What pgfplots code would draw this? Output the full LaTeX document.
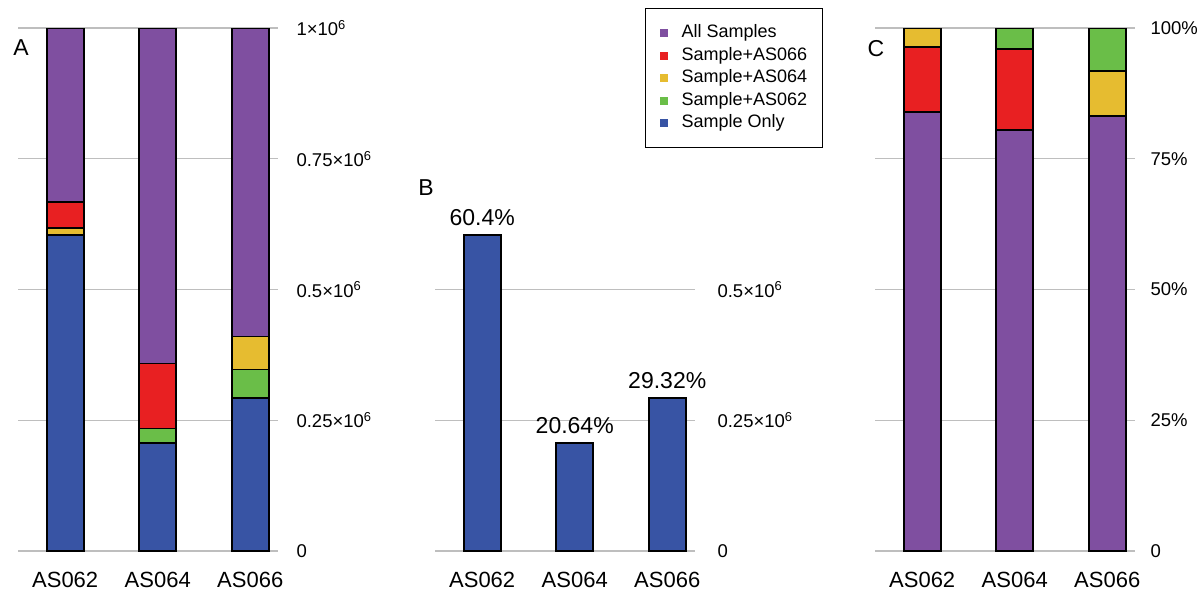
\documentclass[border=0pt]{standalone}
\usepackage{pgfplots}
\pgfplotsset{compat=1.18}
\usepackage{fontspec}
\setmainfont{Liberation Sans}
\definecolor{cPurple}{RGB}{127,79,160}
\definecolor{cRed}{RGB}{232,32,34}
\definecolor{cYellow}{RGB}{230,188,48}
\definecolor{cGreen}{RGB}{106,190,72}
\definecolor{cBlue}{RGB}{56,84,164}
\definecolor{cGrid}{RGB}{190,190,190}
\pgfplotsset{
  panel/.style={
    scale only axis, width=260pt, height=523pt,
    xmin=-0.51, xmax=2.30, ymin=0,
    axis line style={draw=none},
    major tick length=0pt,
    xtick={0,1,2}, xticklabels={AS062,AS064,AS066},
    ymajorgrids, major grid style={color=cGrid, line width=1.4pt},
    yticklabel pos=right,
    scaled y ticks=false,
    yticklabel style={font=\fontsize{18.5}{22}\selectfont, anchor=west, xshift=15pt},
    xticklabel style={font=\fontsize{22}{26}\selectfont, yshift=-20pt, inner sep=1pt},
    bar width=37pt,
    every axis plot post/.append style={draw=black, line width=1.8pt},
  },
  sqlegend/.style={legend image code/.code={
      \path[draw=none,fill=none] (0pt,-6pt) rectangle (21pt,6pt);
      \fill[##1,draw=none] (0pt,-4pt) rectangle (8pt,4pt);}},
}
\begin{document}
\begin{tikzpicture}
\useasboundingbox (0pt,0pt) rectangle (1197pt,-598pt);
% Panel A
\begin{axis}[panel, at={(18pt,-551pt)}, anchor=south west,
  ybar stacked, ymax=1000000,
  ytick={0,250000,500000,750000,1000000},
  yticklabels={0, 0.25×10\textsuperscript{6}, 0.5×10\textsuperscript{6}, 0.75×10\textsuperscript{6}, 1×10\textsuperscript{6}},
  reverse legend,
  legend style={at={(2.4115,1.0382)}, anchor=north west, draw=black, line width=1.2pt,
    font=\fontsize{18}{22}\selectfont, row sep=3.5pt, inner xsep=14pt, inner ysep=15pt,
    nodes={inner sep=1pt, text height=13pt, text depth=4pt}, cells={anchor=west}},
  legend cell align=left,
]
\addplot[fill=cBlue, sqlegend] coordinates {(0,604000) (1,206400) (2,293200)};
\addplot[fill=cGreen, sqlegend] coordinates {(0,0) (1,28000) (2,54000)};
\addplot[fill=cYellow, sqlegend] coordinates {(0,14000) (1,0) (2,63000)};
\addplot[fill=cRed, sqlegend] coordinates {(0,49000) (1,124000) (2,0)};
\addplot[fill=cPurple, sqlegend] coordinates {(0,333000) (1,641600) (2,589800)};
\legend{Sample Only, Sample+AS062, Sample+AS064, Sample+AS066, All Samples}
\end{axis}
% Panel B
\begin{axis}[panel, at={(435pt,-551pt)}, anchor=south west,
  ybar, ymax=1000000,
  ytick={0,250000,500000},
  yticklabels={0, 0.25×10\textsuperscript{6}, 0.5×10\textsuperscript{6}},
  yticklabel style={xshift=4pt},
]
\addplot[fill=cBlue, nodes near coords, point meta=explicit symbolic,
  every node near coord/.append style={font=\fontsize{23}{27}\selectfont, yshift=5pt}]
  coordinates {(0,604000) [60.4\%] (1,206400) [20.64\%] (2,293200) [29.32\%]};
\end{axis}
% Panel C
\begin{axis}[panel, at={(875pt,-551pt)}, anchor=south west,
  ybar stacked, ymax=100,
  ytick={0,25,50,75,100},
  yticklabels={0, 25\%, 50\%, 75\%, 100\%},
  yticklabel style={xshift=-3pt},
]
\addplot[fill=cPurple] coordinates {(0,83.9) (1,80.5) (2,83.1)};
\addplot[fill=cRed] coordinates {(0,12.5) (1,15.5) (2,0)};
\addplot[fill=cYellow] coordinates {(0,3.6) (1,0) (2,8.7)};
\addplot[fill=cGreen] coordinates {(0,0) (1,4.0) (2,8.2)};
\end{axis}
\node[font=\fontsize{23}{27}\selectfont] at (21pt,-48pt) {A};
\node[font=\fontsize{23}{27}\selectfont] at (426pt,-188pt) {B};
\node[font=\fontsize{23}{27}\selectfont] at (876pt,-49pt) {C};
\end{tikzpicture}
\end{document}
